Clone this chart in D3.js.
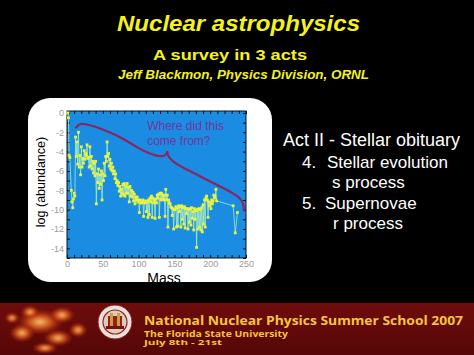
<!DOCTYPE html>
<html>
<head>
<meta charset="utf-8">
<script src="https://cdn.jsdelivr.net/npm/d3@7"></script>
<style>
  html, body { margin: 0; padding: 0; background: #000; }
  svg { display: block; }
</style>
</head>
<body>
<div id="slide"></div>
<script>
// [mass, log(abundance)]
const solarAbundance = [
  [1, 0.0], [2, -0.5], [3, -4.4], [4, -4.6], [6, -8.0], [7, -9.2], [8, -9.8], [9, -8.9], [10, -8.3],
  [11, -8.6], [12, -2.5], [13, -4.5], [14, -3.0], [15, -5.3], [16, -2.0], [17, -5.6], [18, -4.4], [19, -6.4], [20, -3.5],
  [21, -5.6], [22, -4.7], [23, -5.2], [24, -3.9], [25, -4.8], [26, -4.2], [27, -4.4], [28, -3.3], [29, -4.7], [30, -4.6],
  [31, -5.6], [32, -3.5], [33, -5.5], [34, -4.5], [35, -5.8], [36, -5.0], [37, -6.2], [38, -5.2], [39, -6.5], [40, -5.0],
  [41, -9.4], [42, -6.3], [43, -7.2], [44, -5.8], [45, -7.8], [46, -6.4], [47, -7.4], [48, -6.0], [49, -9.0], [50, -6.3],
  [51, -7.0], [52, -5.2], [53, -6.5], [54, -4.5], [55, -5.0], [56, -3.0], [57, -4.5], [58, -4.2], [59, -5.5], [60, -4.8],
  [61, -5.8], [62, -5.2], [63, -6.0], [64, -5.6], [65, -6.3], [66, -6.0], [67, -6.8], [68, -6.3], [69, -7.2], [70, -7.0],
  [71, -7.5], [72, -7.2], [73, -8.1], [74, -7.6], [75, -8.6], [76, -7.9], [77, -8.3], [78, -7.4], [79, -8.5], [80, -7.3],
  [81, -8.6], [82, -7.6], [83, -8.3], [84, -7.3], [85, -8.3], [86, -7.7], [87, -9.2], [88, -7.6], [89, -8.6], [90, -8.0],
  [91, -8.7], [92, -8.2], [93, -9.1], [94, -8.4], [95, -9.4], [96, -8.7], [97, -9.0], [98, -8.7], [99, -9.2], [100, -9.0],
  [101, -10.3], [102, -9.0], [103, -9.3], [104, -9.2], [105, -9.3], [106, -9.0], [107, -10.7], [108, -9.2], [109, -9.3], [110, -9.1],
  [111, -10.2], [112, -9.2], [113, -10.8], [114, -9.0], [115, -10.5], [116, -8.8], [117, -9.2], [118, -8.6], [119, -10.8], [120, -8.8],
  [121, -9.3], [122, -9.0], [123, -10.9], [124, -8.9], [125, -9.3], [126, -8.5], [127, -8.8], [128, -8.4], [129, -10.8], [130, -8.3],
  [131, -9.0], [132, -8.3], [133, -8.9], [134, -8.5], [135, -9.0], [136, -8.5], [137, -10.7], [138, -7.9], [139, -9.0], [140, -8.5],
  [141, -11.8], [142, -9.0], [143, -9.3], [144, -9.4], [145, -9.7], [146, -9.8], [147, -10.6], [148, -9.9], [149, -12.0], [150, -10.0],
  [151, -10.0], [152, -9.7], [153, -11.8], [154, -9.8], [155, -11.7], [156, -9.6], [157, -10.2], [158, -9.7], [159, -11.8], [160, -9.6],
  [161, -11.0], [162, -9.8], [163, -11.5], [164, -9.7], [165, -11.9], [166, -9.9], [167, -10.4], [168, -9.9], [169, -12.0], [170, -10.0],
  [171, -11.3], [172, -9.9], [173, -11.6], [174, -9.8], [175, -10.9], [176, -10.2], [177, -12.1], [178, -9.9], [179, -11.0], [180, -10.1],
  [181, -13.9], [182, -10.0], [183, -12.0], [184, -9.9], [185, -11.8], [186, -10.0], [187, -12.1], [188, -9.8], [189, -12.3], [190, -9.5],
  [191, -11.5], [192, -9.0], [193, -11.8], [194, -8.8], [195, -8.6], [196, -9.0], [197, -10.8], [198, -9.2], [199, -9.6], [200, -9.3],
  [201, -9.9], [202, -9.0], [203, -9.4], [204, -9.1], [205, -8.5], [206, -8.6], [207, -8.8], [208, -7.9], [209, -9.1],
  [232, -9.6], [235, -12.4], [238, -10.3]
];

// the hand-drawn brace, in plot units, split at its tip
const braceLeft = [[12.6, -1.5], [18.3, -1.17], [32, -1.27], [70, -2.36], [107, -3.9], [128, -4.45], [134, -4.45], [138, -4.3], [140, -4.05]];
const braceRight = [[140, -4.05], [142, -4.5], [150, -5.1], [187, -6.6], [229, -8.2], [240, -8.75], [245.5, -9.3], [247, -10.1]];

const xTickLabels = [0, 50, 100, 150, 200, 250];
const yTickLabels = [0, -2, -4, -6, -8, -10, -12, -14];

const titleLines = ["Nuclear astrophysics", "A survey in 3 acts", "Jeff Blackmon, Physics Division, ORNL"];
const actTitle = "Act II - Stellar obituary";
const actItems = [["4.", "Stellar evolution"], ["", "s process"], ["5.", "Supernovae"], ["", "r process"]];
const footerLines = ["National Nuclear Physics Summer School 2007", "The Florida State University", "July 8th - 21st"];

const W = 474, H = 355;
const sans = "'Liberation Sans', Arial, Helvetica, sans-serif";

const svg = d3.select("#slide").append("svg")
    .attr("width", W)
    .attr("height", H);

const defs = svg.append("defs");

svg.append("rect").attr("width", W).attr("height", H).attr("fill", "#000");

// Title block
const yellow = "#f4f21e";
svg.append("text")
    .attr("x", 117).attr("y", 30.5)
    .attr("textLength", 243).attr("lengthAdjust", "spacingAndGlyphs")
    .style("font", `italic bold 22px ${sans}`)
    .attr("fill", yellow)
    .text(titleLines[0]);

svg.append("text")
    .attr("x", 153).attr("y", 59.5)
    .attr("textLength", 154).attr("lengthAdjust", "spacingAndGlyphs")
    .style("font", `bold 15px ${sans}`)
    .attr("fill", yellow)
    .text(titleLines[1]);

svg.append("text")
    .attr("x", 118).attr("y", 78.5)
    .attr("textLength", 251).attr("lengthAdjust", "spacingAndGlyphs")
    .style("font", `italic bold 12.5px ${sans}`)
    .attr("fill", yellow)
    .text(titleLines[2]);

// White rounded panel holding the chart
svg.append("rect")
    .attr("x", 28).attr("y", 98)
    .attr("width", 244).attr("height", 184)
    .attr("rx", 22)
    .attr("fill", "#fff");

const plot = {left: 67, right: 246, top: 111, bottom: 258};

const x = d3.scaleLinear().domain([0, 250]).range([plot.left, plot.right]);
const y = d3.scaleLinear().domain([-15, 0.2]).range([plot.bottom, plot.top]);

svg.append("rect")
    .attr("x", plot.left).attr("y", plot.top)
    .attr("width", plot.right - plot.left).attr("height", plot.bottom - plot.top)
    .attr("fill", "#1a8ce2");

// Axes: minor ticks all round, labels bottom and left
const xMinor = d3.range(0, 251, 10);
const yMinor = d3.range(-15, 0.5, 1);

function styleAxis(g) {
    g.select(".domain").remove();
    g.selectAll(".tick line").attr("stroke", "#111").attr("stroke-width", 1);
    g.selectAll(".tick text").attr("fill", "#9a9a9a").style("font", `9px ${sans}`);
}

svg.append("g")
    .attr("transform", `translate(0, ${plot.bottom})`)
    .call(d3.axisBottom(x).tickValues(xMinor).tickSize(-3).tickPadding(3)
        .tickFormat(d => xTickLabels.includes(d) ? d : ""))
    .call(styleAxis);

svg.append("g")
    .attr("transform", `translate(0, ${plot.top})`)
    .call(d3.axisTop(x).tickValues(xMinor).tickSize(-3).tickFormat(""))
    .call(styleAxis);

svg.append("g")
    .attr("transform", `translate(${plot.left}, 0)`)
    .call(d3.axisLeft(y).tickValues(yMinor).tickSize(-3).tickPadding(3)
        .tickFormat(d => yTickLabels.includes(d) ? d : ""))
    .call(styleAxis);

svg.append("g")
    .attr("transform", `translate(${plot.right}, 0)`)
    .call(d3.axisRight(y).tickValues(yMinor).tickSize(-3).tickFormat(""))
    .call(styleAxis);

svg.append("rect")
    .attr("x", plot.left).attr("y", plot.top)
    .attr("width", plot.right - plot.left).attr("height", plot.bottom - plot.top)
    .attr("fill", "none")
    .attr("stroke", "#111")
    .attr("stroke-width", 1);

// Abundance curve
const line = d3.line().x(d => x(d[0])).y(d => y(d[1]));

svg.append("path")
    .datum(solarAbundance)
    .attr("d", line)
    .attr("fill", "none")
    .attr("stroke", "#a6ecc0")
    .attr("stroke-width", 0.8);

svg.append("g")
    .selectAll("rect")
    .data(solarAbundance)
    .join("rect")
    .attr("x", d => x(d[0]) - 1.4)
    .attr("y", d => y(d[1]) - 1.4)
    .attr("width", 2.8)
    .attr("height", 2.8)
    .attr("fill", "#ecf43a");

// Brace and question
const brace = d3.line()
    .x(d => x(d[0]))
    .y(d => y(d[1]))
    .curve(d3.curveCatmullRom);

[braceLeft, braceRight].forEach(part => {
    svg.append("path")
        .datum(part)
        .attr("d", brace)
        .attr("fill", "none")
        .attr("stroke", "#8a2660")
        .attr("stroke-width", 2.2)
        .attr("stroke-linecap", "round");
});

const question = svg.append("text")
    .style("font", `12px ${sans}`)
    .attr("fill", "#76349a");
question.append("tspan").attr("x", x(112)).attr("y", 130).text("Where did this");
question.append("tspan").attr("x", x(112)).attr("y", 145).text("come from?");

// Axis titles
svg.append("text")
    .attr("x", 164).attr("y", 283)
    .attr("text-anchor", "middle")
    .style("font", `14px ${sans}`)
    .attr("fill", "#000")
    .text("Mass");

svg.append("text")
    .attr("transform", "translate(45, 182) rotate(-90)")
    .attr("text-anchor", "middle")
    .style("font", `12.5px ${sans}`)
    .attr("fill", "#000")
    .text("log (abundance)");

// Right-hand outline
svg.append("text")
    .attr("x", 283).attr("y", 146)
    .style("font", `18px ${sans}`)
    .attr("fill", "#fff")
    .text(actTitle);

const itemY = [168, 188, 209, 229];
const itemX = [327, 332, 325, 333];
actItems.forEach((it, i) => {
    if (it[0]) {
        svg.append("text")
            .attr("x", 302).attr("y", itemY[i])
            .style("font", `17px ${sans}`)
            .attr("fill", "#fff")
            .text(it[0]);
    }
    svg.append("text")
        .attr("x", itemX[i]).attr("y", itemY[i])
        .style("font", `17px ${sans}`)
        .attr("fill", "#fff")
        .text(it[1]);
});

// Footer banner
const band = defs.append("linearGradient").attr("id", "band").attr("x1", 0).attr("y1", 0).attr("x2", 0).attr("y2", 1);
band.append("stop").attr("offset", "0%").attr("stop-color", "#6e0c0c");
band.append("stop").attr("offset", "100%").attr("stop-color", "#560707");

svg.append("rect")
    .attr("x", 0).attr("y", 303)
    .attr("width", W).attr("height", H - 303)
    .attr("fill", "url(#band)");

const glow = defs.append("radialGradient").attr("id", "glow");
glow.append("stop").attr("offset", "0%").attr("stop-color", "#ffd070").attr("stop-opacity", 0.95);
glow.append("stop").attr("offset", "45%").attr("stop-color", "#e0581a").attr("stop-opacity", 0.8);
glow.append("stop").attr("offset", "100%").attr("stop-color", "#6e0c0c").attr("stop-opacity", 0);

defs.append("filter").attr("id", "soft")
    .append("feGaussianBlur").attr("stdDeviation", 1.2);

const blobs = [
    [40, 322, 26, 14], [22, 333, 14, 10], [62, 315, 14, 9], [58, 338, 16, 9],
    [30, 312, 10, 7], [78, 330, 10, 8], [12, 318, 8, 6], [45, 348, 14, 6]
];
svg.append("g")
    .attr("filter", "url(#soft)")
    .selectAll("ellipse")
    .data(blobs)
    .join("ellipse")
    .attr("cx", d => d[0]).attr("cy", d => d[1])
    .attr("rx", d => d[2]).attr("ry", d => d[3])
    .attr("fill", "url(#glow)");

// University seal
const seal = svg.append("g").attr("transform", "translate(115, 322)");
seal.append("circle").attr("r", 17).attr("fill", "#e8e2da").attr("stroke", "#8a1a1a").attr("stroke-width", 1);
seal.append("circle").attr("r", 12).attr("fill", "#d9cdbd").attr("stroke", "#9a2020").attr("stroke-width", 1.2);
seal.append("rect").attr("x", -7).attr("y", -6).attr("width", 14).attr("height", 11).attr("fill", "#9a1c1c");
seal.append("rect").attr("x", -5).attr("y", -9).attr("width", 3).attr("height", 15).attr("fill", "#c8a040");
seal.append("rect").attr("x", 2).attr("y", -9).attr("width", 3).attr("height", 15).attr("fill", "#c8a040");
seal.append("rect").attr("x", -9).attr("y", 4).attr("width", 18).attr("height", 3).attr("fill", "#7a1010");

const footFont = "'Open Sans', 'Noto Sans', sans-serif";
svg.append("text")
    .attr("x", 144).attr("y", 324.5)
    .attr("textLength", 319).attr("lengthAdjust", "spacingAndGlyphs")
    .style("font", `bold 13px ${footFont}`)
    .attr("fill", "#f4c43e")
    .text(footerLines[0]);
svg.append("text")
    .attr("x", 144).attr("y", 336.5)
    .attr("textLength", 144).attr("lengthAdjust", "spacingAndGlyphs")
    .style("font", `bold 8.5px ${footFont}`)
    .attr("fill", "#f4c43e")
    .text(footerLines[1]);
svg.append("text")
    .attr("x", 144).attr("y", 345)
    .attr("textLength", 78).attr("lengthAdjust", "spacingAndGlyphs")
    .style("font", `bold 7.5px ${footFont}`)
    .attr("fill", "#f4c43e")
    .text(footerLines[2]);
</script>
</body>
</html>
